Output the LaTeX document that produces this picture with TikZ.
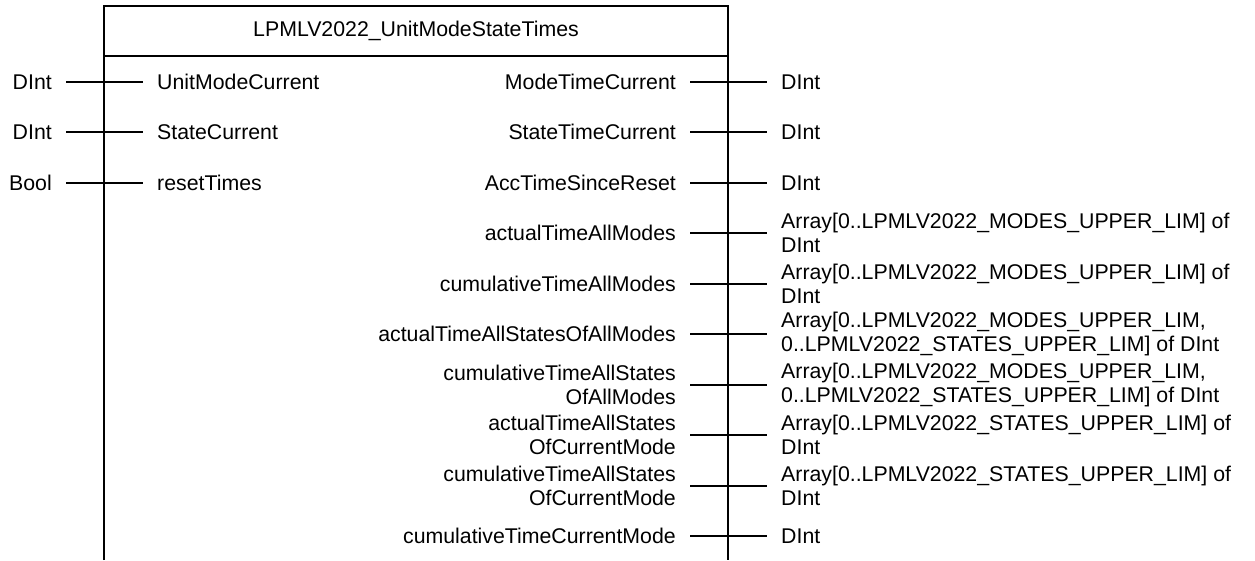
\documentclass[tikz,border=0pt]{standalone}
\usepackage{fontspec}
\setmainfont{Liberation Sans}
\begin{document}
\begin{tikzpicture}[x=1pt,y=-1pt,
  wire/.style={line width=2pt},
  lbl/.style={font=\fontsize{21.3pt}{23.5pt}\selectfont, inner xsep=14pt, inner ysep=0pt},
  lft/.style={lbl, align=right},
  rgt/.style={lbl, align=left}]
\useasboundingbox (0,0) rectangle (1255,560);
% box
\coordinate (bl) at (104,560);
\coordinate (tl) at (104,6);
\coordinate (tr) at (728,6);
\coordinate (br) at (728,560);
\coordinate (sl) at (104,56);
\coordinate (sr) at (728,56);
\draw[wire] (bl) -- (tl) -- (tr) -- (br);
\draw[wire] (sl) -- (sr);
\node[lbl] (title) at (416,31) {LPMLV2022\_UnitModeStateTimes};
% inputs
\foreach \i/\yy/\t/\n in {0/82/DInt/UnitModeCurrent, 1/132/DInt/StateCurrent, 2/183/Bool/resetTimes}{
  \node[lft, anchor=east] (it\i) at (66,\yy) {\t};
  \node[rgt, anchor=west] (in\i) at (143,\yy) {\n};
  \draw[wire] (it\i.east) -- (in\i.west);
}
% outputs
\foreach \i/\yy/\n/\t in {
  0/82/{ModeTimeCurrent}/{DInt},
  1/132/{StateTimeCurrent}/{DInt},
  2/183/{AccTimeSinceReset}/{DInt},
  3/233/{actualTimeAllModes}/{Array[0..LPMLV2022\_MODES\_UPPER\_LIM] of\\DInt},
  4/284/{cumulativeTimeAllModes}/{Array[0..LPMLV2022\_MODES\_UPPER\_LIM] of\\DInt},
  5/334/{actualTimeAllStatesOfAllModes}/{Array[0..LPMLV2022\_MODES\_UPPER\_LIM,\\0..LPMLV2022\_STATES\_UPPER\_LIM] of DInt},
  6/385/{cumulativeTimeAllStates\\OfAllModes}/{Array[0..LPMLV2022\_MODES\_UPPER\_LIM,\\0..LPMLV2022\_STATES\_UPPER\_LIM] of DInt},
  7/435/{actualTimeAllStates\\OfCurrentMode}/{Array[0..LPMLV2022\_STATES\_UPPER\_LIM] of\\DInt},
  8/486/{cumulativeTimeAllStates\\OfCurrentMode}/{Array[0..LPMLV2022\_STATES\_UPPER\_LIM] of\\DInt},
  9/536/{cumulativeTimeCurrentMode}/{DInt}}{
  \node[lft, anchor=east] (on\i) at (690,\yy) {\n};
  \node[rgt, anchor=west] (ot\i) at (767,\yy) {\t};
  \draw[wire] (on\i.east) -- (ot\i.west);
}
\end{tikzpicture}
\end{document}
